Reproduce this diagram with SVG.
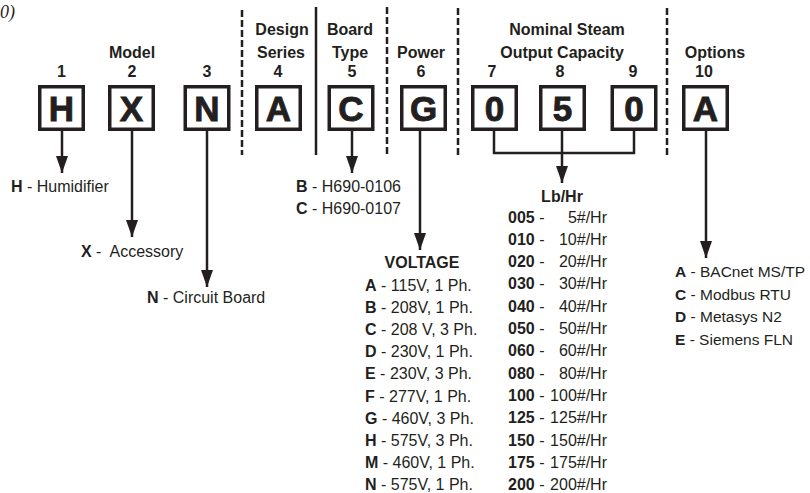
<svg xmlns="http://www.w3.org/2000/svg" width="810" height="493" viewBox="0 0 810 493">
<defs>
<marker id="ah" markerUnits="userSpaceOnUse" markerWidth="17" markerHeight="12" refX="17" refY="6" orient="auto">
<path d="M0,0 L17,6 L0,12 z" fill="#231f20"/>
</marker>
<style>
text{font-family:"Liberation Sans",Arial,sans-serif;fill:#231f20;font-size:16px}
.b{font-weight:bold}
.hd{font-weight:bold;text-anchor:middle}
.box rect{fill:#fff;stroke:#231f20;stroke-width:3.5}
.box text{font-size:35px;font-weight:bold;text-anchor:middle;stroke:#231f20;stroke-width:0.9}
.sep{stroke:#231f20;stroke-width:2.5;fill:none}
.dash{stroke-dasharray:7 3}
.con{stroke:#231f20;stroke-width:2.5;fill:none}
.arr{marker-end:url(#ah)}
.o{font-size:15.5px}
</style>
</defs>
<text x="0" y="18" style="font-family:'Liberation Serif',serif;font-style:italic;font-size:18px">0)</text>

<g id="separators">
<line class="sep dash" x1="242" y1="10" x2="242" y2="155"/>
<line class="sep" x1="316" y1="7" x2="316" y2="155"/>
<line class="sep dash" x1="387" y1="7" x2="387" y2="155"/>
<line class="sep dash" x1="458" y1="8" x2="458" y2="155"/>
<line class="sep dash" x1="667" y1="8" x2="667" y2="155"/>
</g>

<g id="headers">
<text class="hd" x="132" y="58">Model</text>
<text class="hd" x="282" y="35">Design</text>
<text class="hd" x="281" y="58">Series</text>
<text class="hd" x="350" y="35">Board</text>
<text class="hd" x="350" y="58">Type</text>
<text class="hd" x="421" y="58">Power</text>
<text class="hd" x="567" y="35">Nominal Steam</text>
<text class="hd" x="562" y="58">Output Capacity</text>
<text class="hd" x="715" y="58">Options</text>
<text class="hd" x="61.5" y="77">1</text>
<text class="hd" x="132" y="77">2</text>
<text class="hd" x="207" y="77">3</text>
<text class="hd" x="278" y="77">4</text>
<text class="hd" x="352" y="77">5</text>
<text class="hd" x="421" y="77">6</text>
<text class="hd" x="492" y="77">7</text>
<text class="hd" x="560" y="77">8</text>
<text class="hd" x="633" y="77">9</text>
<text class="hd" x="704" y="77">10</text>
</g>

<g id="box1" class="box"><rect x="39.75" y="86.75" width="43.5" height="42.5"/><text x="61.5" y="120.5">H</text></g>
<g id="box2" class="box"><rect x="109.75" y="86.75" width="43.5" height="42.5"/><text x="131.5" y="120.5">X</text></g>
<g id="box3" class="box"><rect x="185.25" y="86.75" width="43.5" height="42.5"/><text x="207" y="120.5">N</text></g>
<g id="box4" class="box"><rect x="256.75" y="86.75" width="43.5" height="42.5"/><text x="278.5" y="120.5">A</text></g>
<g id="box5" class="box"><rect x="329.25" y="86.75" width="43.5" height="42.5"/><text x="351" y="120.5">C</text></g>
<g id="box6" class="box"><rect x="401.75" y="86.75" width="43.5" height="42.5"/><text x="423.5" y="120.5">G</text></g>
<g id="box7" class="box"><rect x="472.75" y="86.75" width="43.5" height="42.5"/><text x="494.5" y="120.5">0</text></g>
<g id="box8" class="box"><rect x="540.75" y="86.75" width="43.5" height="42.5"/><text x="562.5" y="120.5">5</text></g>
<g id="box9" class="box"><rect x="612.25" y="86.75" width="43.5" height="42.5"/><text x="634" y="120.5">0</text></g>
<g id="box10" class="box"><rect x="683.75" y="86.75" width="43.5" height="42.5"/><text x="705.5" y="120.5">A</text></g>

<g id="connectors">
<line class="con arr" x1="62" y1="131" x2="62" y2="173"/>
<line class="con arr" x1="132" y1="131" x2="132" y2="237"/>
<line class="con arr" x1="207" y1="131" x2="207" y2="287"/>
<line class="con arr" x1="352" y1="131" x2="352" y2="173"/>
<line class="con arr" x1="420" y1="131" x2="420" y2="250"/>
<path class="con" d="M494,131 V153 H634 V131 M562,131 V153"/>
<line class="con arr" x1="562" y1="153" x2="562" y2="183"/>
<line class="con arr" x1="706" y1="131" x2="706" y2="258"/>
</g>

<g id="model-legend">
<text x="11" y="192"><tspan class="b">H</tspan> - Humidifier</text>
<text x="81" y="257" xml:space="preserve"><tspan class="b">X</tspan> -  Accessory</text>
<text x="147" y="303"><tspan class="b">N</tspan> - Circuit Board</text>
</g>

<g id="board-legend">
<text x="296" y="192"><tspan class="b">B</tspan> - H690-0106</text>
<text x="296" y="214"><tspan class="b">C</tspan> - H690-0107</text>
</g>

<g id="voltage-legend">
<text class="hd" x="422" y="268">VOLTAGE</text>
<text x="365" y="290.5"><tspan class="b">A</tspan> - 115V, 1 Ph.</text>
<text x="365" y="312.7"><tspan class="b">B</tspan> - 208V, 1 Ph.</text>
<text x="365" y="334.9"><tspan class="b">C</tspan> - 208 V, 3 Ph.</text>
<text x="365" y="357.1"><tspan class="b">D</tspan> - 230V, 1 Ph.</text>
<text x="365" y="379.3"><tspan class="b">E</tspan> - 230V, 3 Ph.</text>
<text x="365" y="401.5"><tspan class="b">F</tspan> - 277V, 1 Ph.</text>
<text x="365" y="423.7"><tspan class="b">G</tspan> - 460V, 3 Ph.</text>
<text x="365" y="445.9"><tspan class="b">H</tspan> - 575V, 3 Ph.</text>
<text x="365" y="468.1"><tspan class="b">M</tspan> - 460V, 1 Ph.</text>
<text x="365" y="489.6"><tspan class="b">N</tspan> - 575V, 1 Ph.</text>
</g>

<g id="capacity-legend">
<text class="hd" x="562" y="202">Lb/Hr</text>
<text x="508" y="222.5"><tspan class="b">005</tspan> -</text><text x="607" y="222.5" text-anchor="end">5#/Hr</text>
<text x="508" y="244.8"><tspan class="b">010</tspan> -</text><text x="607" y="244.8" text-anchor="end">10#/Hr</text>
<text x="508" y="267.1"><tspan class="b">020</tspan> -</text><text x="607" y="267.1" text-anchor="end">20#/Hr</text>
<text x="508" y="289.4"><tspan class="b">030</tspan> -</text><text x="607" y="289.4" text-anchor="end">30#/Hr</text>
<text x="508" y="311.7"><tspan class="b">040</tspan> -</text><text x="607" y="311.7" text-anchor="end">40#/Hr</text>
<text x="508" y="334"><tspan class="b">050</tspan> -</text><text x="607" y="334" text-anchor="end">50#/Hr</text>
<text x="508" y="356.3"><tspan class="b">060</tspan> -</text><text x="607" y="356.3" text-anchor="end">60#/Hr</text>
<text x="508" y="378.6"><tspan class="b">080</tspan> -</text><text x="607" y="378.6" text-anchor="end">80#/Hr</text>
<text x="508" y="400.9"><tspan class="b">100</tspan> -</text><text x="607" y="400.9" text-anchor="end">100#/Hr</text>
<text x="508" y="423.2"><tspan class="b">125</tspan> -</text><text x="607" y="423.2" text-anchor="end">125#/Hr</text>
<text x="508" y="445.5"><tspan class="b">150</tspan> -</text><text x="607" y="445.5" text-anchor="end">150#/Hr</text>
<text x="508" y="467.8"><tspan class="b">175</tspan> -</text><text x="607" y="467.8" text-anchor="end">175#/Hr</text>
<text x="508" y="490"><tspan class="b">200</tspan> -</text><text x="607" y="490" text-anchor="end">200#/Hr</text>
</g>

<g id="options-legend">
<text class="o" x="675" y="277"><tspan class="b">A</tspan> - BACnet MS/TP</text>
<text class="o" x="675" y="299.6"><tspan class="b">C</tspan> - Modbus RTU</text>
<text class="o" x="675" y="322.2"><tspan class="b">D</tspan> - Metasys N2</text>
<text class="o" x="675" y="344.8"><tspan class="b">E</tspan> - Siemens FLN</text>
</g>
</svg>
